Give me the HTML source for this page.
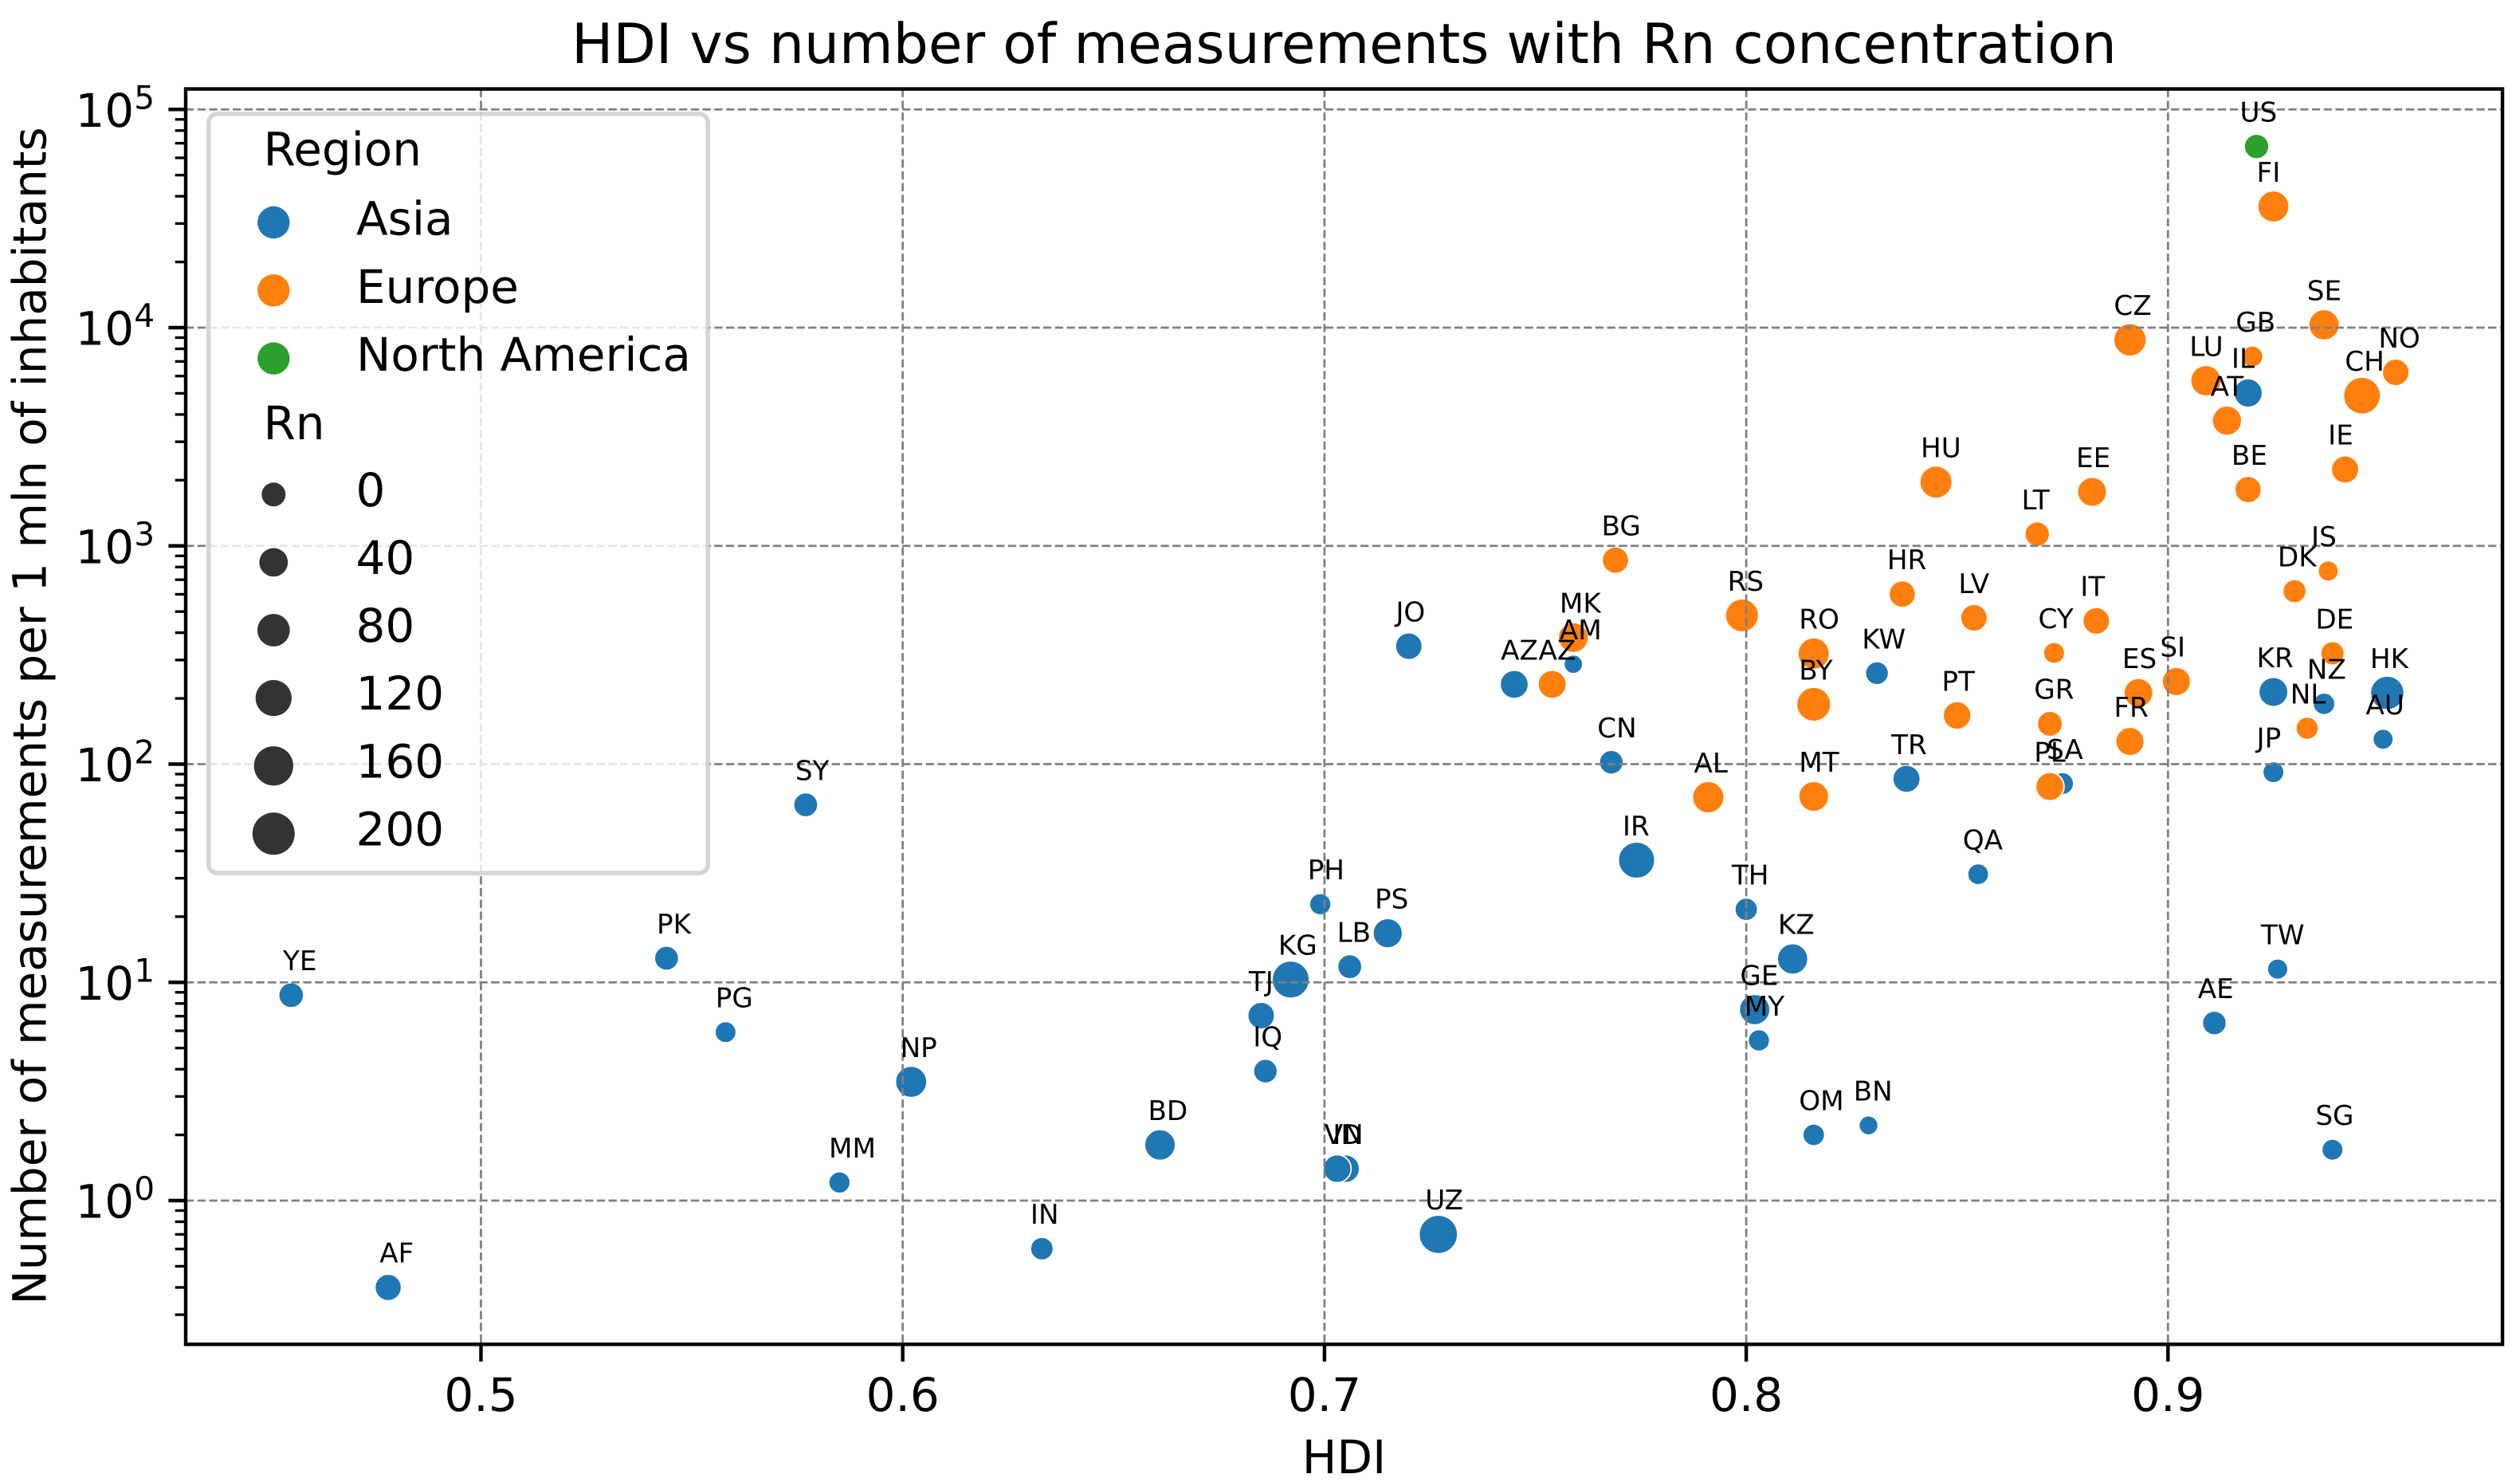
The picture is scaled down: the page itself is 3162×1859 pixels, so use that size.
<!DOCTYPE html>
<html lang="en">
<head>
<meta charset="utf-8">
<title>HDI vs number of measurements with Rn concentration</title>
<style>
html,body{margin:0;padding:0;background:#fff;}
svg{display:block;}
text{font-family:"DejaVu Sans","Liberation Sans",sans-serif;fill:#000;text-rendering:geometricPrecision;}
</style>
</head>
<body>
<svg id="chart" xmlns="http://www.w3.org/2000/svg" width="3162" height="1859" viewBox="0 0 3162 1859">
  <rect x="0" y="0" width="3162" height="1859" fill="#ffffff"/>
  <g id="points"></g>
  <g id="grid"></g>
  <g id="ticks"></g>
  <rect id="spines" fill="none" stroke="#000" stroke-width="4.44"/>
  <text x="1686.5" y="79" font-size="69.5" text-anchor="middle">HDI vs number of measurements with Rn concentration</text>
  <text x="1686.5" y="1848" font-size="58" text-anchor="middle">HDI</text>
  <text x="0" y="0" font-size="58" text-anchor="middle" transform="translate(57.7 898) rotate(-90)">Number of measurements per 1 mln of inhabitants</text>
  <g id="labels"></g>
  <g id="legend">
    <rect x="261.7" y="142.9" width="626.5" height="952.3" rx="11" ry="11" fill="#ffffff" fill-opacity="0.8" stroke="#cccccc" stroke-opacity="0.8" stroke-width="5.55"/>
    <text x="330.5" y="207.6" font-size="58">Region</text>
    <text x="330.5" y="551" font-size="58">Rn</text>
  </g>
</svg>
<script>
const codes = ["AF","YE","PK","PG","MM","NP","IN","BD","ID","VN","IQ","TJ","KG","LB","PH","PS","UZ","JO","AZ","IR","CN","SY","TH","KZ","GE","MY","OM","BN","QA","KW","TR","AM","SA","IL","AE","KR","JP","TW","SG","NZ","HK","AU",
  "AL","AZ","MK","BG","RS","RO","BY","MT","HR","HU","LV","PT","LT","PL","GR","CY","EE","IT","CZ","FR","ES","SI","LU","AT","BE","GB","FI","DK","NL","IS","SE","DE","IE","CH","NO","US"];
const regions = ["Asia","Asia","Asia","Asia","Asia","Asia","Asia","Asia","Asia","Asia","Asia","Asia","Asia","Asia","Asia","Asia","Asia","Asia","Asia","Asia","Asia","Asia","Asia","Asia","Asia","Asia","Asia","Asia","Asia","Asia","Asia","Asia","Asia","Asia","Asia","Asia","Asia","Asia","Asia","Asia","Asia","Asia",
  "Europe","Europe","Europe","Europe","Europe","Europe","Europe","Europe","Europe","Europe","Europe","Europe","Europe","Europe","Europe","Europe","Europe","Europe","Europe","Europe","Europe","Europe","Europe","Europe","Europe","Europe","Europe","Europe","Europe","Europe","Europe","Europe","Europe","Europe","Europe","North America"];
const hdiValues = [0.478,0.455,0.544,0.558,0.585,0.602,0.633,0.661,0.705,0.703,0.686,0.685,0.692,0.706,0.699,0.715,0.727,0.720,0.745,0.774,0.768,0.577,0.800,0.811,0.802,0.803,0.816,0.829,0.855,0.831,0.838,0.759,0.875,0.919,0.911,0.925,0.925,0.926,0.939,0.937,0.952,0.951,
  0.791,0.754,0.759,0.769,0.799,0.816,0.816,0.816,0.837,0.845,0.854,0.850,0.869,0.872,0.872,0.873,0.882,0.883,0.891,0.891,0.893,0.902,0.909,0.914,0.919,0.920,0.925,0.930,0.933,0.938,0.937,0.939,0.942,0.946,0.954,0.921];
const measurements = [0.40,8.73,12.9,5.91,1.21,3.50,0.602,1.80,1.40,1.40,3.92,7.04,10.3,11.8,22.8,16.8,0.70,347,232,36.3,102,65.1,21.6,12.8,7.5,5.42,2.0,2.21,31.3,261,85.6,287,81.4,5020,6.51,214,91.8,11.5,1.71,189,212,130,
  70.5,232,380,860,480,321,188,71.1,601,1960,468,167,1132,78.9,153,323,1768,453,8790,127,212,239,5710,3750,1810,7370,35900,620,146,767,10300,322,2240,4880,6240,67600];
const rnValues = [58,46,40,19,21,103,30,97,70,70,38,61,166,40,21,84,182,61,73,157,38,40,29,95,95,21,23,6,18,32,66,4,25,75,38,82,19,14,19,23,127,14,
  105,73,90,59,121,105,132,90,59,113,61,70,44,73,48,19,82,61,116,75,80,75,95,84,59,19,103,34,28,14,95,36,66,163,61,44];

const xTickValues = [0.5,0.6,0.7,0.8,0.9];
const xTickLabels = ["0.5","0.6","0.7","0.8","0.9"];
const yTickExponents = [0,1,2,3,4,5];
const yMinorDecades = [-1,0,1,2,3,4];
const yMinorMultipliers = [2,3,4,5,6,7,8,9];
const legendRegions = ["Asia","Europe","North America"];
const legendRnValues = [0,40,80,120,160,200];

const regionColors = {"Asia":"#1f77b4","Europe":"#ff7f0e","North America":"#2ca02c"};
const SVG_NS = "http://www.w3.org/2000/svg";

const axesLeft = 233, axesRight = 3140, axesTop = 111.6, axesBottom = 1686.3;
function xScale(h){ return 603.5 + (h - 0.5) * 5292; }
function yScale(v){ return 1506 - 273.75 * Math.log10(v); }
function dataDiameter(rn){ return Math.sqrt(441 + 9.55 * rn); }
function legendDiameter(rn){ return Math.sqrt(900 + 9.55 * rn); }

function make(tag, attrs, parent, content){
  const el = document.createElementNS(SVG_NS, tag);
  for (const k in attrs) el.setAttribute(k, attrs[k]);
  if (content !== undefined) el.textContent = content;
  parent.appendChild(el);
  return el;
}

const frame = document.getElementById("spines");
frame.setAttribute("x", axesLeft);
frame.setAttribute("y", axesTop);
frame.setAttribute("width", axesRight - axesLeft);
frame.setAttribute("height", axesBottom - axesTop);

const pointsG = document.getElementById("points");
const labelsG = document.getElementById("labels");
const gridG = document.getElementById("grid");
const ticksG = document.getElementById("ticks");
const legendG = document.getElementById("legend");

codes.forEach(function(code, i){
  const d = dataDiameter(rnValues[i]);
  const dot = make("circle", {cx:xScale(hdiValues[i]), cy:yScale(measurements[i]), r:d/2+0.9, fill:regionColors[regions[i]], stroke:"#ffffff", "stroke-width":1.8}, pointsG);
  
  
  const label = make("text", {x:xScale(hdiValues[i]*0.9957), y:yScale(measurements[i]*1.3), "font-size":34.2}, labelsG, code);
  
  
});

xTickValues.forEach(function(v, i){
  const x = xScale(v);
  const gl = make("line", {x1:x, x2:x, y1:axesTop, y2:axesBottom, stroke:"#808080", "stroke-width":2.78, "stroke-dasharray":"10.3 4.44"}, gridG);
  
  
  const t = make("line", {x1:x, x2:x, y1:axesBottom, y2:axesBottom+19.4+2.2, stroke:"#000", "stroke-width":4.44}, ticksG);
  
  
  const lab = make("text", {x:x, y:1770, "font-size":58, "text-anchor":"middle"}, ticksG, xTickLabels[i]);
  
  
});

yTickExponents.forEach(function(e){
  const y = yScale(Math.pow(10, e));
  const gl = make("line", {x1:axesLeft, x2:axesRight, y1:y, y2:y, stroke:"#808080", "stroke-width":2.78, "stroke-dasharray":"10.3 4.44"}, gridG);
  
  
  const t = make("line", {x1:axesLeft-19.4-2.2, x2:axesLeft, y1:y, y2:y, stroke:"#000", "stroke-width":4.44}, ticksG);
  
  
  const lab = make("text", {x:94.4, y:y+21.5, "font-size":58}, ticksG, "10");
  
  
  const sup = make("text", {x:168.2, y:y-1, "font-size":40.6}, ticksG, String(e));
  
  
});

yMinorDecades.forEach(function(dec){
  yMinorMultipliers.forEach(function(m){
    const y = yScale(m * Math.pow(10, dec));
    if (y < axesTop || y > axesBottom) return;
    const t = make("line", {x1:axesLeft-11.1-2.2, x2:axesLeft, y1:y, y2:y, stroke:"#000", "stroke-width":3.33}, ticksG);
    
    
  });
});

legendRegions.forEach(function(r, i){
  const y = 279 + i * 85.3;
  const m = make("circle", {cx:343.3, cy:y, r:20.2, fill:regionColors[r]}, legendG);
  
  
  const t = make("text", {x:447, y:y+15.6, "font-size":58}, legendG, r);
  
  
});

legendRnValues.forEach(function(v, i){
  const y = 620.3 + i * 85.1;
  const m = make("circle", {cx:343.3, cy:y, r:legendDiameter(v)/2, fill:"#333333"}, legendG);
  
  
  const t = make("text", {x:446.5, y:y+14.6, "font-size":58}, legendG, String(v));
  
  
});
</script>
</body>
</html>
